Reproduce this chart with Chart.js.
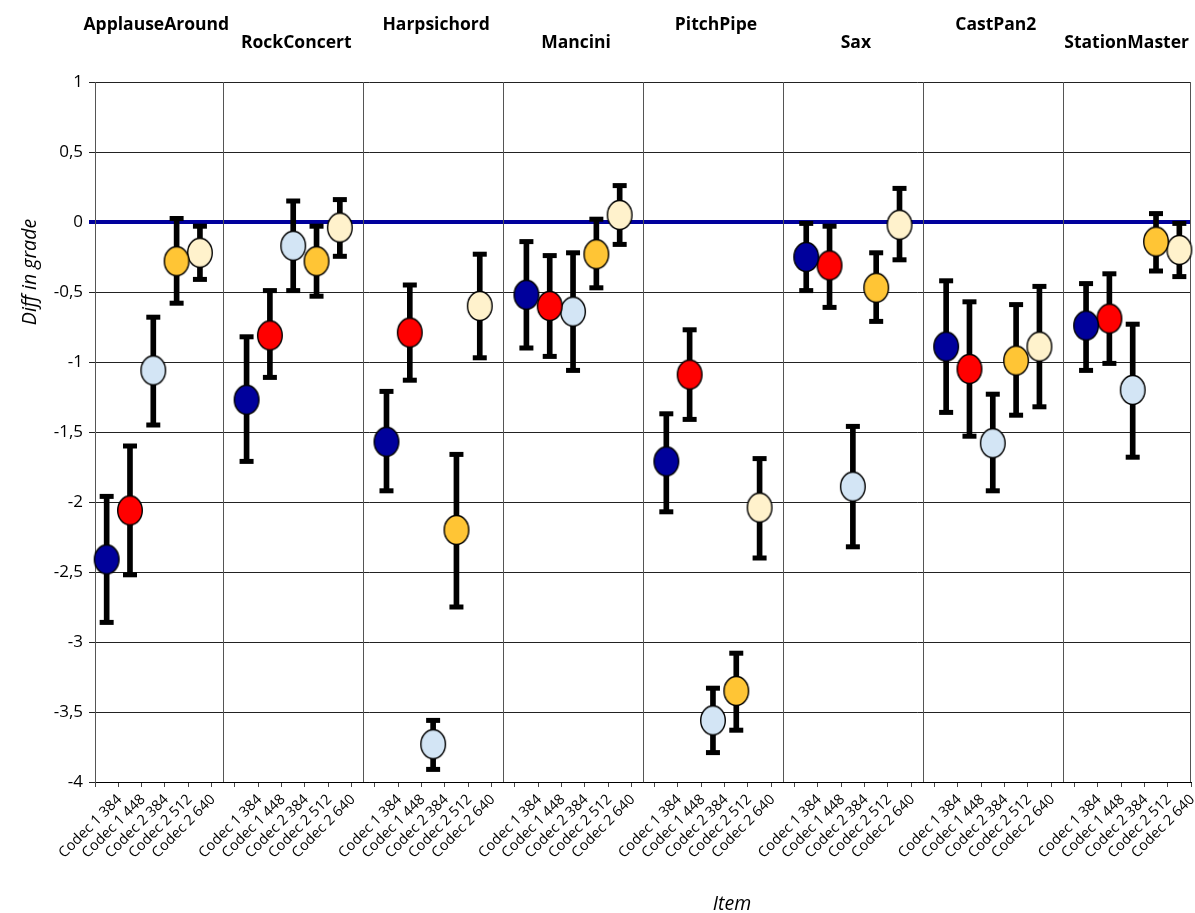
<!DOCTYPE html>
<html>
<head>
<meta charset="utf-8">
<script src="https://cdn.jsdelivr.net/npm/chart.js@4.4.0/dist/chart.umd.min.js"></script>
<style>
  html, body { margin: 0; background: #fff; }
  #wrap { width: 1195px; height: 913px; }
</style>
</head>
<body>
<div id="wrap"><canvas id="chart"></canvas></div>
<script>
// items and codecs
const items = ["ApplauseAround", "RockConcert", "Harpsichord", "Mancini",
               "PitchPipe", "Sax", "CastPan2", "StationMaster"];
const codecs = ["Codec 1 384", "Codec 1 448", "Codec 2 384", "Codec 2 512", "Codec 2 640"];
const yTicks = [1, 0.5, 0, -0.5, -1, -1.5, -2, -2.5, -3, -3.5, -4];

// mean diff in grade, one value per item
const meanC1_384 = [-2.41, -1.27, -1.57, -0.52, -1.71, -0.25, -0.89, -0.74];
const meanC1_448 = [-2.06, -0.81, -0.79, -0.60, -1.09, -0.31, -1.05, -0.69];
const meanC2_384 = [-1.06, -0.17, -3.73, -0.64, -3.56, -1.89, -1.58, -1.20];
const meanC2_512 = [-0.28, -0.28, -2.20, -0.23, -3.35, -0.47, -0.99, -0.14];
const meanC2_640 = [-0.22, -0.04, -0.60, 0.05, -2.04, -0.02, -0.89, -0.20];

// upper end of the confidence interval
const highC1_384 = [-1.96, -0.82, -1.21, -0.14, -1.37, -0.01, -0.42, -0.44];
const highC1_448 = [-1.60, -0.49, -0.45, -0.24, -0.77, -0.03, -0.57, -0.37];
const highC2_384 = [-0.68, 0.15, -3.56, -0.22, -3.33, -1.46, -1.23, -0.73];
const highC2_512 = [0.025, -0.03, -1.66, 0.02, -3.08, -0.22, -0.59, 0.06];
const highC2_640 = [-0.03, 0.16, -0.23, 0.26, -1.69, 0.24, -0.46, -0.01];

// lower end of the confidence interval
const lowC1_384 = [-2.86, -1.71, -1.92, -0.90, -2.07, -0.49, -1.36, -1.06];
const lowC1_448 = [-2.52, -1.11, -1.13, -0.96, -1.41, -0.61, -1.53, -1.01];
const lowC2_384 = [-1.45, -0.49, -3.91, -1.06, -3.79, -2.32, -1.92, -1.68];
const lowC2_512 = [-0.58, -0.53, -2.75, -0.47, -3.63, -0.71, -1.38, -0.35];
const lowC2_640 = [-0.41, -0.245, -0.97, -0.16, -2.40, -0.27, -1.32, -0.39];

const means = [meanC1_384, meanC1_448, meanC2_384, meanC2_512, meanC2_640];
const highs = [highC1_384, highC1_448, highC2_384, highC2_512, highC2_640];
const lows = [lowC1_384, lowC1_448, lowC2_384, lowC2_512, lowC2_640];
const colors = ["#00009C", "#FF0000", "#D3E5F5", "#FFC535", "#FFF2CC"];

// one category per codec, plus an empty one between items
const perGroup = codecs.length + 1;
const labels = [];
items.forEach((item, g) => {
    codecs.forEach(c => labels.push(c));
    if (g < items.length - 1) labels.push("");
});

function spread(fn) {
    const arr = labels.map(() => null);
    items.forEach((item, g) => {
        codecs.forEach((c, k) => { arr[g * perGroup + k] = fn(g, k); });
    });
    return arr;
}

// ellipse marker used as point style
function ellipseMarker(fill) {
    const c = document.createElement("canvas");
    c.width = 28;
    c.height = 32;
    const g = c.getContext("2d");
    g.beginPath();
    g.ellipse(14, 16, 12.3, 14.5, 0, 0, Math.PI * 2);
    g.fillStyle = fill;
    g.fill();
    g.lineWidth = 1.4;
    g.strokeStyle = "#000";
    g.stroke();
    return c;
}

const datasets = [];

// whiskers
datasets.push({
    type: "bar",
    data: spread((g, k) => [lows[k][g], highs[k][g]]),
    backgroundColor: "#000",
    barThickness: 5,
    grouped: false,
    order: 4
});

// caps
[highs, lows].forEach(src => {
    datasets.push({
        type: "line",
        data: spread((g, k) => src[k][g]),
        showLine: false,
        pointStyle: "line",
        pointRadius: 7,
        pointBorderWidth: 5,
        pointBorderColor: "#000",
        order: 3
    });
});

// markers
codecs.forEach((c, k) => {
    datasets.push({
        type: "line",
        label: c,
        data: spread((g, kk) => kk === k ? means[k][g] : null),
        showLine: false,
        pointStyle: ellipseMarker(colors[k]),
        pointRadius: 12,
        order: 1
    });
});

const fontFamily = "'Open Sans', 'Noto Sans', sans-serif";

// separators, right border, item names and axis titles
const decorPlugin = {
    id: "decor",
    beforeDatasetsDraw(chart) {
        const { ctx, chartArea: a, scales: { x } } = chart;
        ctx.save();
        ctx.strokeStyle = "#555";
        ctx.lineWidth = 1;
        ctx.beginPath();
        for (let g = 0; g < items.length - 1; g++) {
            const px = Math.round(x.getPixelForValue(g * perGroup + codecs.length)) + 0.5;
            ctx.moveTo(px, a.top);
            ctx.lineTo(px, a.bottom);
        }
        ctx.moveTo(Math.round(a.right) - 0.5, a.top);
        ctx.lineTo(Math.round(a.right) - 0.5, a.bottom);
        ctx.stroke();
        ctx.restore();
    },
    afterDraw(chart) {
        const { ctx, scales: { x } } = chart;
        ctx.save();
        ctx.fillStyle = "#000";
        ctx.font = "bold 17.5px " + fontFamily;
        ctx.textAlign = "center";
        ctx.textBaseline = "middle";
        items.forEach((item, g) => {
            let cx = x.getPixelForValue(g * perGroup + 2) + 3;
            const w = ctx.measureText(item).width;
            cx = Math.min(cx, chart.width - 6 - w / 2);
            ctx.fillText(item, cx, g % 2 === 0 ? 25 : 43);
        });
        ctx.font = "italic 19.5px " + fontFamily;
        ctx.textBaseline = "alphabetic";
        ctx.fillText("Item", 732, 910);
        ctx.textBaseline = "middle";
        ctx.translate(30, 272);
        ctx.rotate(-Math.PI / 2);
        ctx.fillText("Diff in grade", 0, 0);
        ctx.restore();
    }
};

new Chart(document.getElementById("chart"), {
    data: { labels: labels, datasets: datasets },
    plugins: [decorPlugin],
    options: {
        responsive: true,
        maintainAspectRatio: false,
        animation: false,
        layout: { autoPadding: false, padding: { top: 82, right: 4, left: 0, bottom: 0 } },
        plugins: {
            legend: { display: false },
            tooltip: { enabled: false }
        },
        scales: {
            x: {
                type: "category",
                offset: true,
                grid: {
                    offset: true,
                    drawOnChartArea: false,
                    tickLength: 5,
                    tickColor: "#444"
                },
                border: { color: "#000", width: 1 },
                ticks: {
                    autoSkip: false,
                    maxRotation: 45,
                    minRotation: 45,
                    labelOffset: 13,
                    padding: 4,
                    color: "#000",
                    font: { family: fontFamily, size: 14.5 }
                },
                afterFit(scale) {
                    scale.height = 131;
                    scale.paddingLeft = 0;
                    scale.paddingRight = 0;
                }
            },
            y: {
                min: -4,
                max: 1,
                afterBuildTicks(scale) { scale.ticks = yTicks.map(v => ({ value: v })); },
                grid: {
                    color: c => c.tick && c.tick.value === 0 ? "#00009C" : "#222",
                    lineWidth: c => c.tick && c.tick.value === 0 ? 4 : 1,
                    tickLength: 6
                },
                border: { color: "#555", width: 1 },
                ticks: {
                    color: "#000",
                    padding: 6,
                    font: { family: fontFamily, size: 17 },
                    callback: v => String(v).replace(".", ",")
                },
                afterFit(scale) { scale.width = 95; }
            }
        }
    }
});
</script>
</body>
</html>
